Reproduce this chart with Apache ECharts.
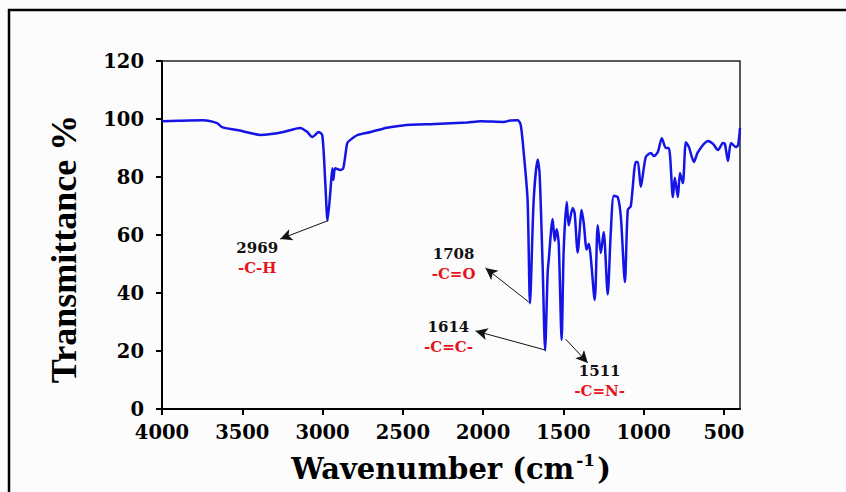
<!DOCTYPE html>
<html>
<head>
<meta charset="utf-8">
<script src="https://cdn.jsdelivr.net/npm/echarts@6/dist/echarts.min.js"></script>
<style>
html,body{margin:0;padding:0;background:#fcfcfc;}
#chart{width:846px;height:492px;}
</style>
</head>
<body>
<div id="chart"></div>
<script>
// Wavenumber (cm-1) values
const wavenumber = [
  4000, 3900, 3744, 3657, 3626, 3532, 3451, 3389, 3320, 3245, 3139, 3095, 3064, 3040, 3027, 3002,
  2983, 2969, 2952, 2939, 2933, 2921, 2889, 2871, 2846, 2827, 2780, 2700, 2600, 2500, 2300, 2100,
  2016, 1872, 1830, 1785, 1766, 1748, 1723, 1708, 1685, 1660, 1648, 1629, 1614, 1598, 1592, 1567,
  1554, 1542, 1529, 1511, 1498, 1479, 1467, 1442, 1430, 1411, 1386, 1373, 1355, 1342, 1305, 1286,
  1267, 1249, 1224, 1205, 1186, 1161, 1142, 1117, 1099, 1080, 1049, 1036, 1018, 987, 955, 937,
  912, 887, 862, 843, 818, 806, 787, 774, 756, 737, 718, 687, 662, 600, 568, 537,
  506, 494, 475, 456, 425, 412, 400
];
// Transmittance (%) values
const transmittance = [
  99.2, 99.4, 99.6, 98.6, 97.2, 96.2, 95.2, 94.5, 94.8, 95.5, 96.9, 95.5, 93.8, 94.8, 95.5, 94.5,
  78, 65, 74.5, 83, 79, 83, 82.4, 83, 91.7, 92.8, 94.5, 95.5, 97, 97.8, 98.3, 98.8,
  99.2, 99, 99.5, 99.6, 98, 89, 72, 36.5, 72, 86, 81, 49, 20.3, 47, 51, 65.5,
  58, 62, 57, 23.8, 55, 71.4, 63.4, 69.3, 67.6, 54, 68.6, 64, 55, 57, 37.6, 63.4,
  53.8, 61, 39.5, 60.7, 73.5, 73, 66.2, 43.8, 68.6, 70, 85.2, 85.2, 76.6, 86.9, 88.3, 87.2,
  88.6, 93.4, 90, 90, 73.1, 79.7, 73.1, 81.4, 77.9, 92, 90.3, 85.2, 88.6, 92.4, 91.4, 89.3,
  91.7, 91.4, 85.5, 91.7, 90.3, 91, 96.9
];
// Tick labels
const xTicks = [4000, 3500, 3000, 2500, 2000, 1500, 1000, 500];
const yTicks = [0, 20, 40, 60, 80, 100, 120];

// Peak annotations
const peakLabels = ['2969', '1708', '1614', '1511'];
const peakGroups = ['-C-H', '-C=O', '-C=C-', '-C=N-'];
const arrowFrom = [[2964, 65], [1716, 36.9], [1610, 20.3], [1486, 24.1]];
const arrowTo = [[3264, 58.6], [1985, 48.6], [2047, 26.9], [1348, 15.9]];
const labelAt = [[3407, 51.9], [2184, 50], [2216, 24.8], [1274, 9.5]];

const serif = '"DejaVu Serif", serif';
const chart = echarts.init(document.getElementById('chart'), null, {renderer: 'svg'});

chart.setOption({
  backgroundColor: '#fcfcfc',
  animation: false,
  graphic: [{
    type: 'rect', silent: true, z: -10,
    shape: {x: 9, y: 10, width: 900, height: 560},
    style: {fill: 'none', stroke: '#000', lineWidth: 2.5}
  }],
  grid: {
    left: 162, right: 106, top: 61, bottom: 83,
    show: true, borderColor: '#222', borderWidth: 1.5, backgroundColor: 'transparent'
  },
  xAxis: {
    type: 'value', inverse: true, min: 400, max: 4000,
    name: 'Wavenumber (cm{sup|-1})',
    nameLocation: 'middle', nameGap: 42,
    nameTextStyle: {
      fontFamily: serif, fontWeight: 'bold', fontSize: 29, color: '#000',
      rich: {sup: {fontFamily: serif, fontWeight: 'bold', fontSize: 17, color: '#000', verticalAlign: 'top', padding: [0, 2, 18, 2]}}
    },
    axisLine: {show: true, onZero: false, lineStyle: {color: '#000', width: 2}},
    axisTick: {show: true, customValues: xTicks, length: 6, lineStyle: {color: '#000', width: 2}},
    axisLabel: {customValues: xTicks, margin: 13, formatter: v => String(v), fontFamily: serif, fontWeight: 'bold', fontSize: 19.5, color: '#000'},
    splitLine: {show: false}
  },
  yAxis: {
    type: 'value', min: 0, max: 120, interval: 20,
    name: 'Transmittance %',
    nameLocation: 'middle', nameGap: 80,
    nameTextStyle: {fontFamily: '"Liberation Serif", serif', fontWeight: 'bold', fontSize: 36, color: '#000', padding: [0, 28, 0, 0]},
    axisLine: {show: true, onZero: false, lineStyle: {color: '#000', width: 2}},
    axisTick: {show: true, length: 6, lineStyle: {color: '#000', width: 2}},
    axisLabel: {margin: 18, formatter: v => String(v), fontFamily: serif, fontWeight: 'bold', fontSize: 19.5, color: '#000'},
    splitLine: {show: false}
  },
  series: [{
    type: 'line',
    data: wavenumber.map((w, i) => [w, transmittance[i]]),
    showSymbol: false,
    smooth: 0.25,
    lineStyle: {color: '#1414e6', width: 2.5},
    markLine: {
      silent: true,
      symbol: ['none', 'arrow'],
      symbolSize: [9, 12],
      lineStyle: {color: '#111', width: 1, type: 'solid'},
      label: {show: false},
      data: arrowFrom.map((f, i) => [{coord: f}, {coord: arrowTo[i]}])
    },
    markPoint: {
      silent: true,
      symbol: 'circle', symbolSize: 0,
      data: labelAt.map((c, i) => ({
        coord: c,
        label: {
          show: true, position: 'inside',
          formatter: '{n|' + peakLabels[i] + '}\n{g|' + peakGroups[i] + '}',
          rich: {
            n: {fontFamily: serif, fontWeight: 'bold', fontSize: 15, color: '#111', lineHeight: 20, align: 'center'},
            g: {fontFamily: serif, fontWeight: 'bold', fontSize: 15, color: '#e8141c', lineHeight: 20, align: 'center'}
          }
        }
      }))
    }
  }]
});
</script>
</body>
</html>
